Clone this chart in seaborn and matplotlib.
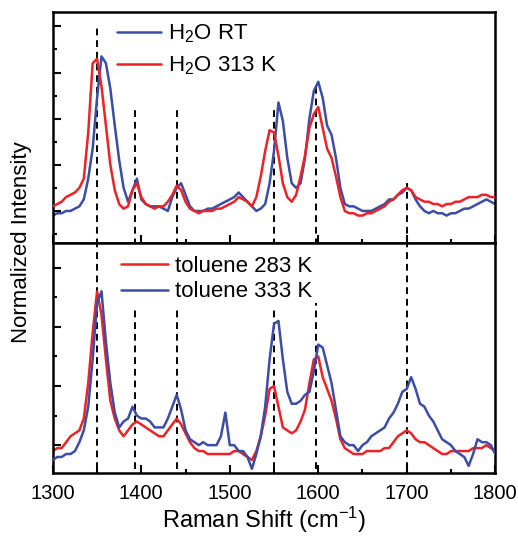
import numpy as np
import pandas as pd
import matplotlib.pyplot as plt
import seaborn as sns

# Raman shift axis (cm-1), sampled every 5 cm-1
shift = np.arange(1300, 1801, 5)

# Top panel: water
h2o_rt = [0.18, 0.19, 0.19, 0.20, 0.20, 0.21, 0.22, 0.25, 0.34, 0.47,
          0.69, 0.87, 0.84, 0.73, 0.57, 0.42, 0.30, 0.24, 0.29, 0.34,
          0.25, 0.23, 0.22, 0.22, 0.22, 0.21, 0.20, 0.26, 0.30, 0.32,
          0.27, 0.22, 0.20, 0.20, 0.20, 0.21, 0.21, 0.22, 0.23, 0.24,
          0.25, 0.26, 0.28, 0.26, 0.24, 0.22, 0.20, 0.21, 0.23, 0.32,
          0.46, 0.67, 0.59, 0.43, 0.32, 0.30, 0.32, 0.43, 0.60, 0.72,
          0.76, 0.69, 0.57, 0.53, 0.43, 0.30, 0.23, 0.22, 0.22, 0.21,
          0.20, 0.20, 0.20, 0.21, 0.22, 0.23, 0.25, 0.25, 0.27, 0.28,
          0.30, 0.29, 0.25, 0.22, 0.20, 0.19, 0.20, 0.19, 0.19, 0.18,
          0.19, 0.19, 0.20, 0.21, 0.21, 0.22, 0.23, 0.24, 0.25, 0.24,
          0.23]
h2o_313 = [0.22, 0.23, 0.24, 0.26, 0.27, 0.28, 0.30, 0.34, 0.54, 0.84,
           0.86, 0.74, 0.57, 0.40, 0.29, 0.23, 0.21, 0.22, 0.29, 0.32,
           0.26, 0.23, 0.22, 0.21, 0.22, 0.22, 0.24, 0.27, 0.31, 0.29,
           0.24, 0.21, 0.20, 0.19, 0.20, 0.20, 0.20, 0.21, 0.21, 0.22,
           0.23, 0.24, 0.26, 0.25, 0.24, 0.22, 0.26, 0.35, 0.46, 0.55,
           0.54, 0.44, 0.32, 0.26, 0.24, 0.27, 0.35, 0.44, 0.56, 0.62,
           0.65, 0.56, 0.47, 0.43, 0.35, 0.26, 0.20, 0.19, 0.19, 0.18,
           0.18, 0.19, 0.19, 0.20, 0.21, 0.22, 0.24, 0.25, 0.27, 0.29,
           0.30, 0.29, 0.26, 0.25, 0.24, 0.24, 0.23, 0.23, 0.22, 0.23,
           0.23, 0.24, 0.24, 0.25, 0.26, 0.26, 0.26, 0.27, 0.27, 0.26,
           0.26]

# Bottom panel: toluene
tol_283 = [0.18, 0.19, 0.19, 0.21, 0.23, 0.24, 0.25, 0.29, 0.41, 0.58,
           0.72, 0.64, 0.49, 0.35, 0.29, 0.25, 0.23, 0.25, 0.27, 0.28,
           0.27, 0.26, 0.25, 0.24, 0.23, 0.23, 0.25, 0.27, 0.29, 0.27,
           0.24, 0.21, 0.19, 0.18, 0.18, 0.17, 0.17, 0.17, 0.17, 0.17,
           0.17, 0.18, 0.18, 0.17, 0.16, 0.15, 0.18, 0.23, 0.30, 0.39,
           0.40, 0.33, 0.26, 0.25, 0.24, 0.25, 0.28, 0.32, 0.41, 0.49,
           0.50, 0.43, 0.39, 0.35, 0.29, 0.22, 0.19, 0.18, 0.17, 0.17,
           0.17, 0.18, 0.18, 0.18, 0.18, 0.19, 0.19, 0.21, 0.23, 0.24,
           0.25, 0.24, 0.22, 0.21, 0.21, 0.20, 0.19, 0.18, 0.17, 0.17,
           0.18, 0.18, 0.18, 0.18, 0.18, 0.19, 0.19, 0.19, 0.20, 0.19,
           0.18]
tol_333 = [0.15, 0.16, 0.16, 0.17, 0.17, 0.18, 0.21, 0.25, 0.33, 0.49,
           0.68, 0.72, 0.55, 0.41, 0.31, 0.26, 0.28, 0.29, 0.33, 0.30,
           0.29, 0.29, 0.28, 0.26, 0.26, 0.26, 0.29, 0.33, 0.37, 0.32,
           0.25, 0.22, 0.21, 0.20, 0.21, 0.20, 0.20, 0.20, 0.23, 0.31,
           0.20, 0.20, 0.18, 0.18, 0.16, 0.12, 0.17, 0.23, 0.33, 0.49,
           0.61, 0.62, 0.49, 0.38, 0.34, 0.34, 0.35, 0.37, 0.38, 0.45,
           0.54, 0.53, 0.47, 0.41, 0.32, 0.23, 0.21, 0.20, 0.20, 0.18,
           0.20, 0.21, 0.23, 0.24, 0.25, 0.26, 0.29, 0.31, 0.34, 0.38,
           0.39, 0.43, 0.39, 0.34, 0.33, 0.30, 0.28, 0.25, 0.22, 0.21,
           0.20, 0.18, 0.17, 0.16, 0.13, 0.17, 0.22, 0.21, 0.21, 0.20,
           0.17]

# Marked band positions and how high each dashed guide reaches
bands = [1350, 1393, 1440, 1550, 1598, 1700]
guide_top_h2o = [1.0, 0.65, 0.65, 0.65, 0.75, 0.32]
guide_top_tol = [0.885, 0.67, 0.67, 0.67, 0.68, 0.885]

blue = '#3B4DA6'
red = '#EC2227'

sns.set_style('ticks', {'axes.edgecolor': 'black', 'text.color': 'black',
                        'xtick.color': 'black', 'ytick.color': 'black',
                        'axes.labelcolor': 'black'})
plt.rcParams['font.family'] = ['Liberation Sans', 'DejaVu Sans']
plt.rcParams['mathtext.default'] = 'regular'

df_h2o = pd.DataFrame({'shift': shift, 'rt': h2o_rt, 'k313': h2o_313})
df_tol = pd.DataFrame({'shift': shift, 'k283': tol_283, 'k333': tol_333})

fig = plt.figure(figsize=(5.18, 5.39), dpi=100)
gs = fig.add_gridspec(2, 1, left=0.102, right=0.956, top=0.978, bottom=0.122,
                      hspace=0)
ax1 = fig.add_subplot(gs[0])
ax2 = fig.add_subplot(gs[1], sharex=ax1)

# dashed guides
for b, t in zip(bands, guide_top_h2o):
    ax1.plot([b, b], [0.0, t], color='black', lw=1.4, dashes=(3.5, 2.5), zorder=1)
for b, t in zip(bands, guide_top_tol):
    ax2.plot([b, b], [0.0, t], color='black', lw=1.4, dashes=(3.5, 2.5), zorder=1)

sns.lineplot(data=df_h2o, x='shift', y='rt', ax=ax1, color=blue, lw=1.8,
             label='H$_2$O RT', zorder=2)
sns.lineplot(data=df_h2o, x='shift', y='k313', ax=ax1, color=red, lw=1.8,
             label='H$_2$O 313 K', zorder=3)
sns.lineplot(data=df_tol, x='shift', y='k283', ax=ax2, color=red, lw=1.8,
             label='toluene 283 K', zorder=2)
sns.lineplot(data=df_tol, x='shift', y='k333', ax=ax2, color=blue, lw=1.8,
             label='toluene 333 K', zorder=3)

ax1.set_ylim(0.063, 1.063)
ax2.set_ylim(0.105, 0.885)
ax1.set_xlim(1300, 1800)

ax1.set_yticks([0.2, 0.4, 0.6, 0.8, 1.0])
ax1.set_yticks([0.1, 0.3, 0.5, 0.7, 0.9], minor=True)
ax2.set_yticks([0.2, 0.4, 0.6, 0.8])
ax2.set_yticks([0.3, 0.5, 0.7], minor=True)
ax2.set_xticks(range(1300, 1801, 100))
ax2.set_xticks(range(1350, 1800, 100), minor=True)

for ax in (ax1, ax2):
    ax.set_xlabel('')
    ax.set_ylabel('')
    for s in ax.spines.values():
        s.set_linewidth(1.8)
        s.set_color('black')
    ax.tick_params(which='major', direction='in', length=6, width=1.5,
                   left=True, bottom=True, top=False, right=False,
                   labelleft=False, labelsize=14.5, colors='black')
    ax.tick_params(which='minor', direction='in', length=3, width=1.5,
                   left=True, bottom=True, top=False, right=False)
ax1.tick_params(labelbottom=False)
ax2.tick_params(axis='x', pad=8)

ax1.legend(loc='upper left', bbox_to_anchor=(0.115, 1.01), frameon=False,
           fontsize=16, handlelength=2.0, handletextpad=0.3, labelspacing=0.4,
           borderaxespad=0.2)
ax2.legend(loc='upper left', bbox_to_anchor=(0.125, 1.0), frameon=False,
           fontsize=16, handlelength=2.1, handletextpad=0.3, labelspacing=0.2,
           borderaxespad=0.2)

fig.text(0.51, 0.008, 'Raman Shift (cm$^{-1}$)', ha='center', va='bottom',
         fontsize=17)
fig.text(0.042, 0.55, 'Normalized Intensity', rotation=90, ha='center',
         va='center', fontsize=16)

fig.savefig('out.png', dpi=100)
